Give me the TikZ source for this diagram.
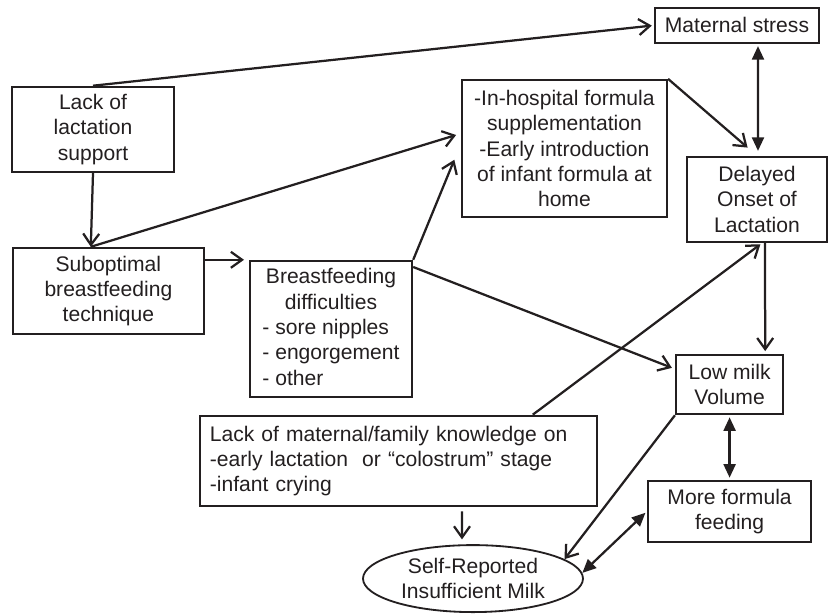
\documentclass[tikz,border=0pt]{standalone}
\usepackage{fontspec}
\setmainfont{Liberation Sans}
\usetikzlibrary{arrows.meta,shapes.geometric}
\definecolor{ink}{HTML}{231F20}

\begin{document}
\begin{tikzpicture}[
  font=\fontsize{15}{18}\selectfont,
  every node/.style={text=ink},
  box/.style={draw=ink,line width=1.7pt,align=center,inner sep=0pt},
  oval/.style={ellipse,draw=ink,line width=1.3pt,align=center,inner sep=0pt,
    minimum width=5.5cm,minimum height=1.675cm},
  arr/.style={draw=ink,line width=1.6pt,-{Straight Barb[length=2.8mm,width=4mm]}},
  dbl/.style={draw=ink,line width=1.6pt,
    {Triangle[length=3.4mm,width=3mm]}-{Triangle[length=3.4mm,width=3mm]}},
]
\useasboundingbox (0,0) rectangle (20.8,15.375);
\node[box,minimum width=4.1cm,minimum height=0.875cm] (MS) at (18.425,14.74) {Maternal stress};
\node[box,minimum width=4.05cm,minimum height=2.125cm] (LL) at (2.325,12.14) {Lack of\\lactation\\support};
\node[box,minimum width=5.125cm,minimum height=3.425cm] (IH) at (14.11,11.66)
  {-In-hospital formula\\supplementation\\-Early introduction\\of infant formula at\\home};
\node[box,minimum width=3.5cm,minimum height=2.125cm] (DO) at (18.925,10.39) {Delayed\\Onset of\\Lactation};
\node[box,minimum width=4.775cm,minimum height=2.15cm] (SO) at (2.71,8.1) {Suboptimal\\breastfeeding\\technique};
\node[box,minimum width=4.05cm,minimum height=3.4cm] (BD) at (8.275,7.15)
  {Breastfeeding\\difficulties\\\rlap{- sore nipples}\phantom{- engorgement}\\- engorgement\\\rlap{- other}\phantom{- engorgement}};
\node[box,minimum width=2.675cm,minimum height=1.475cm] (LM) at (18.24,5.76) {Low milk\\Volume};
\node[box,minimum width=4.075cm,minimum height=1.525cm] (MF) at (18.24,2.59) {More formula\\feeding};
\node[box,align=left,text width=9.425cm,inner sep=0.25cm,minimum height=2.15cm] (LK) at (9.96,3.85)
  {Lack of maternal/family knowledge on\\-early lactation \ or “colostrum” stage\\-infant crying};
\node[oval] (SR) at (11.825,0.91) {Self-Reported\\Insufficient Milk};
\path
  (LL.north) edge[arr,shorten >=0.05cm] (MS.west)
  (LL.south) edge[arr] ([xshift=-0.44cm]SO.north)
  ([xshift=-0.44cm]SO.north) edge[arr,shorten >=0.12cm] ([yshift=0.375cm]IH.west)
  (SO.east |- BD.north west) edge[arr,shorten >=0.12cm] (BD.north west)
  (BD.north east) edge[arr,shorten >=0.42cm] ([yshift=0.11cm]IH.west)
  ([yshift=-0.18cm]BD.north east) edge[arr,shorten >=0.08cm] ([yshift=0.39cm]LM.west)
  (IH.north east) edge[arr,shorten >=0.31cm] (DO.north)
  ([xshift=0.525cm]MS.south) edge[dbl,shorten <=0.05cm,shorten >=0.12cm] ([xshift=0.025cm]DO.north)
  ([xshift=0.2cm]DO.south) edge[arr,shorten >=0.07cm] ([xshift=0.89cm]LM.north)
  ([xshift=3.36cm]LK.north) edge[arr,shorten >=0.05cm] ([xshift=0.125cm]DO.south)
  ([xshift=1.59cm]LK.south) edge[arr,shorten <=0.1cm,shorten >=0.12cm] ([xshift=-0.275cm]SR.north)
  (LM.south west) edge[arr] (SR.12)
  (LM.south) edge[dbl,shorten <=0.05cm,shorten >=0.05cm] (MF.north)
  (MF.west) edge[dbl,shorten <=0.05cm] (SR.3)
;
\end{tikzpicture}
\end{document}
